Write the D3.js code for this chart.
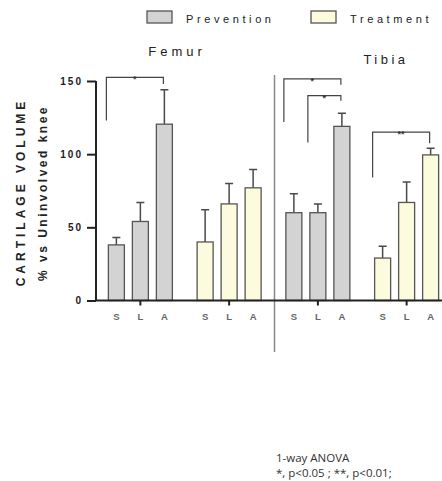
<!DOCTYPE html>
<html>
<head>
<meta charset="utf-8">
<script src="https://d3js.org/d3.v7.min.js"></script>
<style>
  body { margin: 0; background: #fff; }
  text { font-family: "Liberation Sans", Arial, sans-serif; }
</style>
</head>
<body>
<svg id="vis"></svg>
<script>
    // data
    var groups = ["Femur-Prevention", "Femur-Treatment", "Tibia-Prevention", "Tibia-Treatment"];
    var groupType = ["Prevention", "Treatment", "Prevention", "Treatment"];
    var bars = ["S", "L", "A"];
    var means = [
        [38, 54, 120.5],
        [40, 66, 77],
        [60, 60, 119],
        [29, 67, 99.5]
    ];
    var errTops = [
        [43, 67, 144],
        [62, 80, 89.5],
        [73, 66, 128],
        [37, 81, 104]
    ];
    var yTicks = [0, 50, 100, 150];
    var sections = ["Femur", "Tibia"];
    var legendItems = ["Prevention", "Treatment"];

    // significance brackets: group, from bar, to bar, top value, left leg end, right leg end, label
    var brackets = [
        {g: 0, from: "S", to: "A", top: 152.5, leftEnd: 123, rightEnd: 148, label: "*"},
        {g: 2, from: "S", to: "A", top: 151.5, leftEnd: 122, rightEnd: 147.5, label: "*"},
        {g: 2, from: "L", to: "A", top: 140, leftEnd: 108, rightEnd: 136.5, label: "*"},
        {g: 3, from: "S", to: "A", top: 115, leftEnd: 84, rightEnd: 107.5, label: "**"}
    ];

    var W = 442, H = 481;
    var svg = d3.select("#vis").attr("width", W).attr("height", H);

    var fills = {Prevention: "#d3d3d3", Treatment: "#fcfbdd"};

    var x = d3.scaleBand().domain(groups).range([96, 451]).padding(0);
    var xi = d3.scaleBand().domain(bars).range([-32, 32]).paddingInner(1 / 3).paddingOuter(0);
    var y = d3.scaleLinear().domain([0, 150]).range([300.5, 81]);

    function barCenter(gi, b) {
        return x(groups[gi]) + x.bandwidth() / 2 + xi(b) + xi.bandwidth() / 2;
    }

    // divider between femur and tibia
    svg.append("line")
        .attr("x1", x(groups[2]) + 1).attr("x2", x(groups[2]) + 1)
        .attr("y1", 75).attr("y2", 352)
        .attr("stroke", "#8a8a8a").attr("stroke-width", 1.5);

    // bars
    groups.forEach(function(g, gi) {
        var gEl = svg.append("g")
            .attr("transform", "translate(" + (x(g) + x.bandwidth() / 2) + ",0)");

        // error bars (upper only)
        gEl.selectAll(".err").data(bars).enter().append("path")
            .attr("class", "err")
            .attr("d", function(b, i) {
                var cx = xi(b) + xi.bandwidth() / 2;
                return "M" + cx + "," + y(means[gi][i]) + "V" + y(errTops[gi][i]) +
                    "M" + (cx - 4) + "," + y(errTops[gi][i]) + "H" + (cx + 4);
            })
            .attr("fill", "none").attr("stroke", "#4a4a4a").attr("stroke-width", 1.5);

        gEl.selectAll(".bar").data(bars).enter().append("rect")
            .attr("class", "bar")
            .attr("x", function(b) { return xi(b); })
            .attr("width", xi.bandwidth())
            .attr("y", function(b, i) { return y(means[gi][i]); })
            .attr("height", function(b, i) { return y(0) - y(means[gi][i]); })
            .attr("fill", fills[groupType[gi]])
            .attr("stroke", "#555").attr("stroke-width", 1.3);

        gEl.selectAll(".xl").data(bars).enter().append("text")
            .attr("x", function(b) { return xi(b) + xi.bandwidth() / 2; })
            .attr("y", 320)
            .attr("text-anchor", "middle")
            .style("font-size", "9.5px").style("font-weight", "bold")
            .attr("fill", "#666")
            .text(function(b) { return b; });
    });

    // y axis
    var yAxis = svg.append("g")
        .attr("transform", "translate(96,0)")
        .call(d3.axisLeft(y).tickValues(yTicks).tickSize(9).tickPadding(4));
    yAxis.select(".domain").attr("stroke", "#222").attr("stroke-width", 2).attr("d", "M0," + y(150) + "V" + y(0));
    yAxis.selectAll(".tick line").attr("stroke", "#222").attr("stroke-width", 2);
    yAxis.selectAll(".tick text")
        .style("font-family", "Liberation Sans, Arial, sans-serif")
        .style("font-size", "10px").style("font-weight", "bold")
        .style("letter-spacing", "2px").attr("fill", "#222");

    // x axis
    var xAxis = svg.append("g")
        .attr("transform", "translate(0," + y(0) + ")")
        .call(d3.axisBottom(x).tickSize(5).tickFormat(""));
    xAxis.select(".domain").attr("stroke", "#222").attr("stroke-width", 2).attr("d", "M96,0H442");
    xAxis.selectAll(".tick line").attr("stroke", "#222").attr("stroke-width", 2);

    // brackets
    brackets.forEach(function(br) {
        var xl = barCenter(br.g, br.from) - 10;
        var xr = barCenter(br.g, br.to) - 1;
        svg.append("path")
            .attr("d", "M" + xl + "," + y(br.leftEnd) + "V" + y(br.top) + "H" + xr + "V" + y(br.rightEnd))
            .attr("fill", "none").attr("stroke", "#444").attr("stroke-width", 1.2);
        svg.append("text")
            .attr("x", (xl + xr) / 2)
            .attr("y", y(br.top) + 5)
            .attr("text-anchor", "middle")
            .style("font-size", "9px").style("font-weight", "bold")
            .attr("fill", "#333")
            .text(br.label);
    });

    // section titles
    svg.append("text")
        .attr("x", 177).attr("y", 56)
        .attr("text-anchor", "middle")
        .style("font-size", "13px").style("letter-spacing", "4px")
        .attr("fill", "#222")
        .text(sections[0]);
    svg.append("text")
        .attr("x", 386).attr("y", 64)
        .attr("text-anchor", "middle")
        .style("font-size", "13px").style("letter-spacing", "3.5px")
        .attr("fill", "#222")
        .text(sections[1]);

    // legend
    var legX = [147, 311];
    legendItems.forEach(function(name, i) {
        svg.append("rect")
            .attr("x", legX[i]).attr("y", 11)
            .attr("width", 25).attr("height", 12)
            .attr("fill", fills[name]).attr("stroke", "#555").attr("stroke-width", 1.3);
        svg.append("text")
            .attr("x", legX[i] + 39).attr("y", 22.5)
            .style("font-size", "11px").style("letter-spacing", "3.6px")
            .attr("fill", "#222")
            .text(name);
    });

    // y axis title
    svg.append("text")
        .attr("transform", "translate(25,192) rotate(-90)")
        .attr("text-anchor", "middle")
        .style("font-size", "12px").style("font-weight", "bold")
        .style("letter-spacing", "4px")
        .attr("fill", "#222")
        .text("CARTILAGE VOLUME");
    svg.append("text")
        .attr("transform", "translate(47,193) rotate(-90)")
        .attr("text-anchor", "middle")
        .style("font-size", "12px").style("font-weight", "bold")
        .style("letter-spacing", "2.5px")
        .attr("fill", "#222")
        .text("% vs Uninvolved knee");

    // footnote
    svg.append("text")
        .attr("x", 276).attr("y", 462)
        .style("font-family", "Open Sans, sans-serif")
        .style("font-size", "11.5px").attr("fill", "#333")
        .text("1-way ANOVA");
    svg.append("text")
        .attr("x", 276).attr("y", 477)
        .style("font-family", "Open Sans, sans-serif")
        .style("font-size", "11.5px").attr("fill", "#333")
        .text("*, p<0.05 ; **, p<0.01;");
</script>
</body>
</html>
